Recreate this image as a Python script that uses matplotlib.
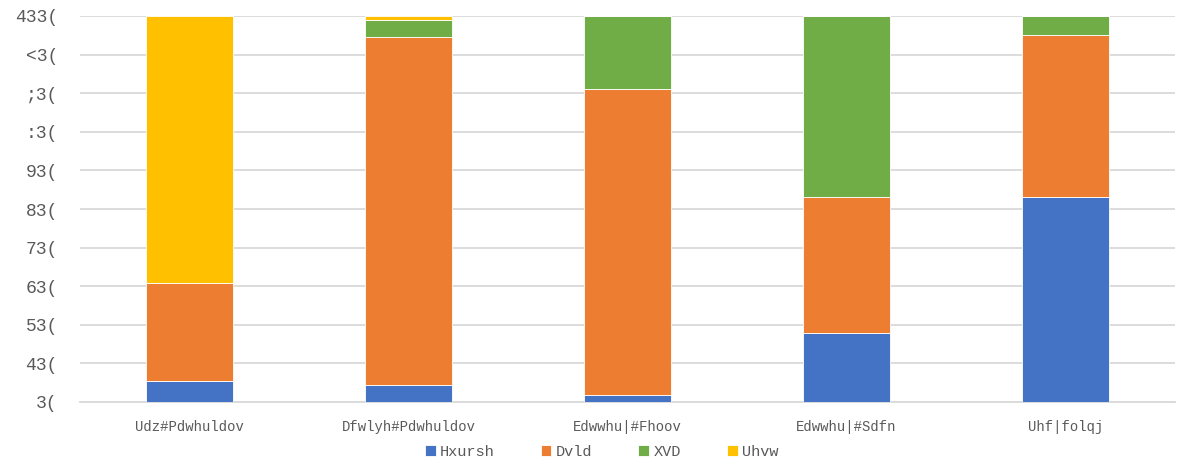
import matplotlib.pyplot as plt
import numpy as np

# Data (labels kept exactly as displayed in the reference)
categories = ["Udz#Pdwhuldov", "Dfwlyh#Pdwhuldov", "Edwwhu|#Fhoov", "Edwwhu|#Sdfn", "Uhf|folqj"]
series_names = ["Hxursh", "Dvld", "XVD", "Uhvw"]
europe = [5.4, 4.4, 1.8, 18.0, 53.1]
asia = [25.4, 90.2, 79.3, 35.1, 41.9]
usa = [0.0, 4.4, 18.9, 46.9, 5.0]
rest = [69.2, 1.0, 0.0, 0.0, 0.0]
ytick_labels = ["3(", "43(", "53(", "63(", "73(", "83(", "93(", ":3(", ";3(", "<3(", "433("]

colors = ["#4472C4", "#ED7D31", "#70AD47", "#FFC000"]
text_color = "#595959"

fig = plt.figure(figsize=(11.8, 4.63), dpi=100)
ax = fig.add_axes([80 / 1180, (463 - 402) / 463, 1095 / 1180, 386 / 463])

x = np.arange(len(categories))
bottom = np.zeros(len(categories))
for name, vals, c in zip(series_names, [europe, asia, usa, rest], colors):
    ax.bar(x, vals, width=0.4, bottom=bottom, color=c, label=name,
           edgecolor="white", linewidth=0.6, zorder=3)
    bottom += np.array(vals)

ax.set_xlim(-0.5, len(categories) - 0.5)
ax.set_ylim(0, 100)
ax.set_yticks(np.arange(0, 101, 10))
ax.set_yticklabels(ytick_labels, family="Liberation Mono", fontsize=13, color=text_color)
ax.set_xticks(x)
ax.set_xticklabels(categories, family="Liberation Mono", fontsize=10, color=text_color)
ax.tick_params(length=0)
ax.tick_params(axis="x", pad=13)
ax.tick_params(axis="y", pad=16)

ax.grid(axis="y", color="#d9d9d9", linewidth=1.3, zorder=0)
for s in ["top", "right", "left"]:
    ax.spines[s].set_visible(False)
ax.spines["bottom"].set_color("#d9d9d9")
ax.spines["bottom"].set_linewidth(1.3)

leg = fig.legend(loc="center", bbox_to_anchor=(0.51, 11 / 463), ncol=4,
                 frameon=False, handlelength=0.7, handleheight=0.7, handletextpad=0.3,
                 columnspacing=3.0, prop={"family": "Liberation Mono", "size": 11})
for t in leg.get_texts():
    t.set_color(text_color)

fig.savefig("out.png", dpi=100)
